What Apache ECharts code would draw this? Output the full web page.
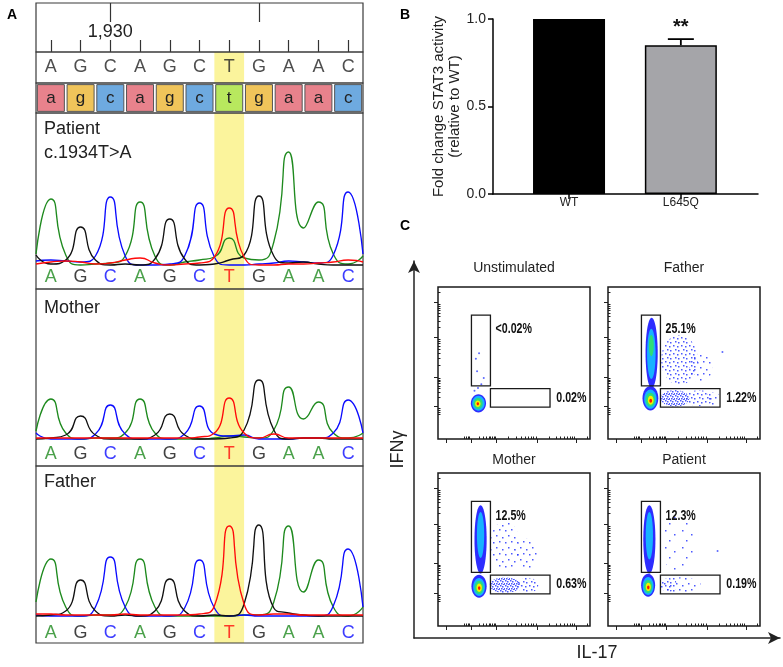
<!DOCTYPE html>
<html>
<head>
<meta charset="utf-8">
<script src="https://cdn.jsdelivr.net/npm/echarts@6/dist/echarts.min.js"></script>
<style>
html, body { margin: 0; padding: 0; background: #fff; }
#chart { width: 783px; height: 667px; }
</style>
</head>
<body>
<div id="chart"></div>
<script>
var FONT = "'Liberation Sans', Arial, Helvetica, sans-serif";

// ---------- A: sequencing ----------
var positions = [1928, 1929, 1930, 1931, 1932, 1933, 1934, 1935, 1936, 1937, 1938];
var refSeq = ['A', 'G', 'C', 'A', 'G', 'C', 'T', 'G', 'A', 'A', 'C'];
var callSeq = ['a', 'g', 'c', 'a', 'g', 'c', 't', 'g', 'a', 'a', 'c'];
var rulerTall = [1930, 1935];
var rulerLabels = [1930];
var variantPos = 1934;

// signal height at left edge, each base, the midpoints between bases, right edge
var patientA = [12, 67, 11, 1, 2, 3, 10, 64, 10, 1, 4, 6, 9, 28, 8, 6, 24, 114, 38, 64, 12, 2, 10];
var patientG = [11, 2, 6, 39, 6, 1, 2, 1, 7, 47, 7, 1, 2, 6, 11, 70, 10, 3, 4, 2, 1, 1, 1];
var patientC = [5, 6, 5, 4, 10, 69, 10, 1, 1, 2, 10, 63, 9, 1, 1, 2, 3, 5, 4, 3, 11, 74, 12];
var patientT = [2, 4, 5, 4, 2, 3, 6, 8, 3, 1, 2, 3, 9, 58, 9, 1, 1, 2, 2, 3, 4, 6, 4];

var motherA = [8, 40, 6, 0, 1, 1, 6, 40, 6, 0, 0, 0, 1, 3, 2, 1, 9, 52, 20, 37, 6, 1, 6];
var motherG = [0, 1, 4, 23, 4, 0, 0, 0, 4, 25, 4, 0, 0, 1, 9, 59, 9, 0, 1, 1, 0, 0, 0];
var motherC = [6, 0, 0, 0, 5, 34, 5, 0, 0, 0, 5, 33, 5, 3, 4, 0, 0, 0, 1, 1, 6, 39, 6];
var motherT = [1, 1, 1, 1, 1, 1, 1, 1, 1, 1, 1, 2, 6, 41, 6, 1, 5, 1, 1, 1, 1, 1, 1];

var fatherA = [14, 57, 9, 0, 1, 1, 9, 57, 9, 0, 0, 0, 0, 0, 1, 1, 14, 90, 24, 56, 9, 0, 9];
var fatherG = [0, 1, 5, 36, 5, 0, 1, 0, 5, 37, 5, 0, 1, 0, 12, 91, 8, 3, 1, 0, 0, 0, 0];
var fatherC = [1, 0, 0, 0, 9, 59, 9, 0, 0, 0, 8, 56, 8, 0, 1, 0, 0, 0, 0, 0, 10, 67, 9];
var fatherT = [2, 2, 1, 1, 1, 1, 2, 1, 1, 1, 1, 2, 10, 90, 12, 1, 2, 2, 1, 1, 1, 1, 1];

// ---------- B: STAT3 activity ----------
var barCats = ['WT', 'L645Q'];
var barMeans = [1.0, 0.85];
var barErrs = [0, 0.035];
var barSig = ['', '**'];

// ---------- C: flow ----------
var flowNames = ['Unstimulated', 'Father', 'Mother', 'Patient'];
var gateIFNg = [220, 345, 350, 815];   // x0, x1, y0, y1
var gateIL17 = [345, 737, 210, 332];
var pctIFNg = ['<0.02%', '25.1%', '12.5%', '12.3%'];
var pctIL17 = ['0.02%', '1.22%', '0.63%', '0.19%'];
var flowMajorX = [57, 220, 383, 656, 907];
var flowMajorY = [216, 407, 667, 898];

// density contours: cx, cy, rx, ry, level
var unstimBlobs = [[266, 235, 50, 60, 0], [266, 235, 41, 49, 1], [264, 233, 30, 36, 2], [262, 232, 18, 22, 3], [262, 232, 8, 10, 4]];
var fatherBlobs = [[287, 565, 40, 232, 0], [285, 560, 28, 165, 1], [285, 615, 16, 70, 2],
    [279, 268, 52, 80, 0], [279, 262, 41, 63, 1], [279, 258, 31, 46, 2], [281, 255, 19, 29, 3], [281, 252, 9, 13, 4]];
var motherBlobs = [[280, 566, 40, 223, 0], [280, 595, 24, 150, 1],
    [270, 260, 50, 75, 0], [270, 255, 39, 59, 1], [270, 252, 29, 43, 2], [271, 250, 18, 27, 3], [271, 248, 8, 12, 4]];
var patientBlobs = [[272, 566, 40, 223, 0], [272, 590, 24, 155, 1],
    [264, 266, 46, 75, 0], [264, 262, 36, 59, 1], [264, 258, 27, 43, 2], [265, 255, 17, 27, 3], [265, 252, 8, 12, 4]];

// sparse events: cx, cy, rx, ry, density
var unstimClouds = [];
var fatherClouds = [[470, 520, 120, 165, 2], [610, 470, 75, 100, 1], [690, 265, 50, 42, 1], [600, 268, 95, 52, 2], [440, 268, 95, 55, 3]];
var motherClouds = [[440, 520, 100, 165, 1], [580, 470, 75, 100, 1], [590, 266, 70, 50, 2], [440, 266, 100, 52, 3]];
var patientClouds = [[460, 540, 115, 185, 0], [480, 268, 130, 50, 1], [400, 268, 55, 45, 2]];

var unstimDots = [[270, 564], [249, 528], [257, 445], [301, 401], [263, 335], [285, 360], [240, 318]];
var fatherDots = [[753, 572]];
var motherDots = [];
var patientDots = [[721, 490]];

var baseColor = { A: '#1e8a1e', C: '#0a0aff', G: '#111111', T: '#ff0a0a' };
var boxColor = { a: '#e8828c', c: '#6eaae0', g: '#f0c45a', t: '#b8e85e' };
var heatColors = ['#2d2dff', '#16b2ff', '#2edc78', '#f4f000', '#ff1500'];
var yellow = '#fbf49c';

// x of every trace sample: edge, base, midpoint, base, ... edge
var tracePos = [];
positions.forEach(function (p) { tracePos.push(p - 0.5, p); });
tracePos.push(positions[positions.length - 1] + 0.5);

function makeTile(size, dots) {
    var c = document.createElement('canvas');
    c.width = size;
    c.height = size;
    var ctx = c.getContext('2d');
    ctx.fillStyle = 'rgba(45, 60, 255, 0.85)';
    dots.forEach(function (d) { ctx.fillRect(d[0], d[1], 1.5, 1.5); });
    return { image: c, repeat: 'repeat' };
}
var tiles = [
    makeTile(17, [[2, 3], [11, 7], [6, 13]]),
    makeTile(12, [[1, 2], [7, 1], [4, 7], [10, 9]]),
    makeTile(8, [[1, 1], [5, 2], [3, 5], [6, 6]]),
    makeTile(5, [[0, 0], [2, 1], [4, 3], [1, 3], [3, 4]])
];

var logSteps = [2, 3, 4, 5, 6, 7, 8, 9].map(function (k) { return Math.log10(k); });
function minorTicks(majors, firstDecade, linearStep) {
    var out = [];
    for (var i = firstDecade; i < majors.length; i++) {
        var a = majors[i];
        var b = i + 1 < majors.length ? majors[i + 1] : a + (a - majors[i - 1]);
        logSteps.forEach(function (f) {
            var v = a + (b - a) * f;
            if (v < 1000) out.push(v);
        });
    }
    for (var n = 1; n <= 4; n++) out.push(majors[firstDecade] - n * linearStep);
    return out;
}
var flowMinorX = minorTicks(flowMajorX, 1, 12);
var flowMinorY = minorTicks(flowMajorY, 0, 14);

var grids = [
    { left: 36, top: 3, width: 327, height: 49 },
    { left: 36, top: 52, width: 327, height: 31 },
    { left: 36, top: 83, width: 327, height: 30 },
    { left: 36, top: 113, width: 327, height: 176 },
    { left: 36, top: 289, width: 327, height: 177 },
    { left: 36, top: 466, width: 327, height: 177 },
    { left: 493, top: 19, width: 265, height: 175 },
    { left: 414, top: 261, width: 366, height: 382 },
    { left: 438, top: 287, width: 152, height: 152 },
    { left: 608, top: 287, width: 152, height: 152 },
    { left: 438, top: 473, width: 152, height: 153 },
    { left: 608, top: 473, width: 152, height: 153 }
];
grids.forEach(function (g, i) {
    g.containLabel = false;
    if (i <= 5) {
        g.show = true; g.borderColor = '#3a3a3a'; g.borderWidth = 1.2; g.z = 3;
        g.backgroundColor = 'transparent';
    } else if (i >= 8) {
        g.show = true; g.borderColor = '#1a1a1a'; g.borderWidth = 1.5; g.z = 3;
        g.backgroundColor = 'transparent';
    }
});

function seqAxis(grid) {
    return { type: 'value', gridIndex: grid, min: 1927.5, max: 1938.5, show: false };
}
function hiddenY(grid, min, max) {
    return { type: 'value', gridIndex: grid, min: min, max: max, show: false };
}
function flowAxis(grid, ticks, len) {
    return {
        type: 'value', gridIndex: grid, min: 0, max: 1000,
        axisLine: { show: false },
        axisTick: { show: true, length: len, customValues: ticks, lineStyle: { color: '#222', width: 1 } },
        axisLabel: { show: false }, splitLine: { show: false }
    };
}

var xAxes = [
    {
        type: 'value', gridIndex: 0, min: 1927.5, max: 1938.5,
        axisLine: { show: false }, splitLine: { show: false }, axisLabel: { show: false },
        axisTick: { show: true, inside: true, length: 12, customValues: positions, lineStyle: { color: '#333', width: 1.2 } }
    },
    {
        type: 'value', gridIndex: 0, min: 1927.5, max: 1938.5,
        axisLine: { show: false }, splitLine: { show: false },
        axisTick: { show: true, inside: true, length: 19, customValues: rulerTall, lineStyle: { color: '#333', width: 1.2 } },
        axisLabel: {
            show: true, inside: true, margin: 20, customValues: rulerLabels,
            fontSize: 18, color: '#222', fontFamily: FONT,
            formatter: function (v) { return String(v).replace(/\B(?=(\d{3})+(?!\d))/g, ','); }
        }
    },
    seqAxis(1), seqAxis(2), seqAxis(3), seqAxis(4), seqAxis(5),
    {
        type: 'value', gridIndex: 6, min: 0.32, max: 2.69,
        axisLine: { show: true, lineStyle: { color: '#000', width: 1.5 } },
        axisTick: { show: true, length: 5, customValues: [1, 2], lineStyle: { color: '#000', width: 1.5 } },
        axisLabel: {
            show: true, customValues: [1, 2], margin: 3, fontSize: 12, color: '#222', fontFamily: FONT,
            formatter: function (v) { return barCats[Math.round(v) - 1]; }
        },
        splitLine: { show: false }
    },
    {
        type: 'value', gridIndex: 7, min: 0, max: 1,
        axisLine: { show: true, symbol: ['none', 'arrow'], symbolSize: [9, 12], lineStyle: { color: '#222', width: 1.5 } },
        axisTick: { show: false }, axisLabel: { show: false }, splitLine: { show: false },
        name: 'IL-17', nameLocation: 'middle', nameGap: 6,
        nameTextStyle: { fontSize: 18, color: '#222', fontFamily: FONT, verticalAlign: 'top' }
    }
];
var yAxes = [
    hiddenY(0, 0, 1), hiddenY(1, 0, 1), hiddenY(2, -0.04, 1.04),
    hiddenY(3, -23, 153), hiddenY(4, -27, 150), hiddenY(5, -27, 150),
    {
        type: 'value', gridIndex: 6, min: 0, max: 1, interval: 0.5,
        axisLine: { show: true, lineStyle: { color: '#000', width: 1.5 } },
        axisTick: { show: true, length: 5, lineStyle: { color: '#000', width: 1.5 } },
        axisLabel: { fontSize: 14, color: '#222', margin: 7, fontFamily: FONT, formatter: function (v) { return v.toFixed(1); } },
        splitLine: { show: false },
        name: 'Fold change STAT3 activity\n(relative to WT)', nameLocation: 'middle', nameRotate: 90, nameGap: 30,
        nameTextStyle: { fontSize: 15, lineHeight: 16, color: '#222', fontFamily: FONT }
    },
    {
        type: 'value', gridIndex: 7, min: 0, max: 1,
        axisLine: { show: true, symbol: ['none', 'arrow'], symbolSize: [9, 12], lineStyle: { color: '#222', width: 1.5 } },
        axisTick: { show: false }, axisLabel: { show: false }, splitLine: { show: false },
        name: 'IFNγ', nameLocation: 'middle', nameRotate: 90, nameGap: 7,
        nameTextStyle: { fontSize: 18, color: '#222', fontFamily: FONT }
    }
];
for (var k = 0; k < 4; k++) xAxes.push(flowAxis(8 + k, flowMajorX, 4));
for (k = 0; k < 4; k++) xAxes.push(flowAxis(8 + k, flowMinorX, 2.5));
for (k = 0; k < 4; k++) yAxes.push(flowAxis(8 + k, flowMajorY, 4));
for (k = 0; k < 4; k++) yAxes.push(flowAxis(8 + k, flowMinorY, 2.5));

var series = [];

// yellow column over the variant base
function highlight(xi, yi) {
    return {
        type: 'line', xAxisIndex: xi, yAxisIndex: yi, z: 1, silent: true,
        data: [[variantPos, 0]], showSymbol: false, lineStyle: { opacity: 0 },
        markArea: { silent: true, itemStyle: { color: yellow }, data: [[{ xAxis: variantPos - 0.5 }, { xAxis: variantPos + 0.5 }]] }
    };
}

series.push(highlight(2, 1));
series.push({
    type: 'scatter', xAxisIndex: 2, yAxisIndex: 1, symbolSize: 1, itemStyle: { color: 'transparent' }, silent: true,
    data: positions.map(function (p, i) { return [p, 0.5]; }),
    label: {
        show: true, position: 'inside', fontSize: 18, color: '#222', fontFamily: FONT,
        formatter: function (d) { return refSeq[d.dataIndex]; }
    }
});
series.push({
    type: 'bar', xAxisIndex: 3, yAxisIndex: 2, barWidth: 28, silent: true,
    data: positions.map(function (p, i) {
        return { value: [p, 1], itemStyle: { color: boxColor[callSeq[i]] } };
    }),
    itemStyle: { borderColor: '#555', borderWidth: 1 },
    label: {
        show: true, position: 'inside', fontSize: 17, color: '#222', fontFamily: FONT,
        formatter: function (d) { return callSeq[d.dataIndex]; }
    }
});

function addSample(xi, yi, chA, chC, chG, chT, callY) {
    series.push(highlight(xi, yi));
    [['A', chA], ['C', chC], ['G', chG], ['T', chT]].forEach(function (ch) {
        series.push({
            type: 'line', xAxisIndex: xi, yAxisIndex: yi, silent: true,
            smooth: 0.6, showSymbol: false,
            lineStyle: { color: baseColor[ch[0]], width: 1.35 },
            data: tracePos.map(function (x, i) { return [x, ch[1][i]]; })
        });
    });
    series.push({
        type: 'scatter', xAxisIndex: xi, yAxisIndex: yi, symbolSize: 1, itemStyle: { color: 'transparent' }, silent: true,
        data: positions.map(function (p, i) {
            return { value: [p, callY], label: { color: baseColor[refSeq[i]] } };
        }),
        label: {
            show: true, position: 'inside', fontSize: 18, fontFamily: FONT,
            formatter: function (d) { return refSeq[d.dataIndex]; }
        }
    });
}
addSample(4, 3, patientA, patientC, patientG, patientT, -11);
addSample(5, 4, motherA, motherC, motherG, motherT, -15);
addSample(6, 5, fatherA, fatherC, fatherG, fatherT, -17);

// B
series.push({
    type: 'bar', xAxisIndex: 7, yAxisIndex: 6, barWidth: 72, silent: true,
    data: barCats.map(function (c, i) {
        return { value: [i + 1, barMeans[i]], itemStyle: { color: i === 0 ? '#000' : '#a5a5a9' } };
    }),
    itemStyle: { borderColor: '#000', borderWidth: 1.5 }
});
series.push({
    type: 'custom', xAxisIndex: 7, yAxisIndex: 6, silent: true, z: 5,
    data: barCats.map(function (c, i) { return [i + 1, barMeans[i], barErrs[i], i]; }),
    renderItem: function (params, api) {
        var i = api.value(3);
        if (!barErrs[i]) return null;
        var base = api.coord([api.value(0), api.value(1)]);
        var top = api.coord([api.value(0), api.value(1) + api.value(2)]);
        var ls = { stroke: '#000', lineWidth: 1.8 };
        return {
            type: 'group', children: [
                { type: 'line', shape: { x1: base[0], y1: base[1], x2: top[0], y2: top[1] }, style: ls },
                { type: 'line', shape: { x1: top[0] - 13, y1: top[1], x2: top[0] + 13, y2: top[1] }, style: ls },
                { type: 'text', x: top[0], y: top[1] - 12, style: { text: barSig[i], fill: '#111', font: 'bold 20px ' + FONT, align: 'center', verticalAlign: 'middle', textAlign: 'center', textVerticalAlign: 'middle' } }
            ]
        };
    }
});

// C
var flowBlobs = [unstimBlobs, fatherBlobs, motherBlobs, patientBlobs];
var flowClouds = [unstimClouds, fatherClouds, motherClouds, patientClouds];
var flowDots = [unstimDots, fatherDots, motherDots, patientDots];

function ellipseItem(fillFn) {
    return function (params, api) {
        var c = api.coord([api.value(0), api.value(1)]);
        var s = api.size([api.value(2), api.value(3)]);
        return { type: 'ellipse', shape: { cx: c[0], cy: c[1], rx: s[0], ry: s[1] }, style: { fill: fillFn(api.value(4)) } };
    };
}

// percent labels: bold, squeezed to look like the narrow face of the original
function pctItem(labels) {
    return function (params, api) {
        var p = api.coord([api.value(0), api.value(1)]);
        return {
            type: 'text', x: p[0], y: p[1], scaleX: 0.76,
            style: {
                text: labels[params.dataIndex], fill: '#111', font: 'bold 14px ' + FONT,
                align: 'left', verticalAlign: 'middle', textAlign: 'left', textVerticalAlign: 'middle'
            }
        };
    };
}

for (k = 0; k < 4; k++) {
    var xi = 9 + k, yi = 8 + k;
    series.push({
        type: 'custom', xAxisIndex: xi, yAxisIndex: yi, silent: true, z: 2,
        data: flowClouds[k], renderItem: ellipseItem(function (d) { return tiles[d]; })
    });
    series.push({
        type: 'custom', xAxisIndex: xi, yAxisIndex: yi, silent: true, z: 2,
        data: flowBlobs[k], renderItem: ellipseItem(function (lv) { return heatColors[lv]; })
    });
    series.push({
        type: 'scatter', xAxisIndex: xi, yAxisIndex: yi, silent: true, z: 2,
        symbolSize: 2, itemStyle: { color: '#3344ff' }, data: flowDots[k]
    });
    series.push({
        type: 'custom', xAxisIndex: xi, yAxisIndex: yi, silent: true, z: 4,
        data: [gateIFNg, gateIL17],
        renderItem: function (params, api) {
            var p0 = api.coord([api.value(0), api.value(3)]);
            var p1 = api.coord([api.value(1), api.value(2)]);
            return {
                type: 'rect', shape: { x: p0[0], y: p0[1], width: p1[0] - p0[0], height: p1[1] - p0[1] },
                style: { fill: 'none', stroke: '#1a1a1a', lineWidth: 1.3 }
            };
        }
    });
    series.push({
        type: 'custom', xAxisIndex: xi, yAxisIndex: yi, silent: true, z: 4,
        data: [
            [gateIL17[0] + 34, 720],
            [gateIL17[1] + 41, (gateIL17[2] + gateIL17[3]) / 2]
        ],
        renderItem: pctItem([pctIFNg[k], pctIL17[k]])
    });
}

function txt(text, x, y, extra) {
    var st = {
        text: text, fill: '#222', fontSize: 18, fontFamily: FONT,
        align: 'center', verticalAlign: 'middle', textAlign: 'center', textVerticalAlign: 'middle'
    };
    for (var key in extra) st[key] = extra[key];
    return { type: 'text', x: x, y: y, silent: true, z: 10, style: st };
}
var graphics = [
    txt('A', 12, 15, { fontSize: 14, fontWeight: 'bold', fill: '#000' }),
    txt('B', 405, 15, { fontSize: 14, fontWeight: 'bold', fill: '#000' }),
    txt('C', 405, 226, { fontSize: 14, fontWeight: 'bold', fill: '#000' }),
    txt('Patient', 44, 129, { align: 'left', textAlign: 'left' }),
    txt('c.1934T>A', 44, 153, { align: 'left', textAlign: 'left' }),
    txt('Mother', 44, 308, { align: 'left', textAlign: 'left' }),
    txt('Father', 44, 482, { align: 'left', textAlign: 'left' })
];
var flowTitlePos = [[514, 268], [684, 268], [514, 460], [684, 460]];
flowNames.forEach(function (n, i) {
    graphics.push(txt(n, flowTitlePos[i][0], flowTitlePos[i][1], { fontSize: 14 }));
});

var chart = echarts.init(document.getElementById('chart'));
chart.setOption({
    animation: false,
    backgroundColor: '#fff',
    grid: grids,
    xAxis: xAxes,
    yAxis: yAxes,
    series: series,
    graphic: graphics
});
</script>
</body>
</html>
